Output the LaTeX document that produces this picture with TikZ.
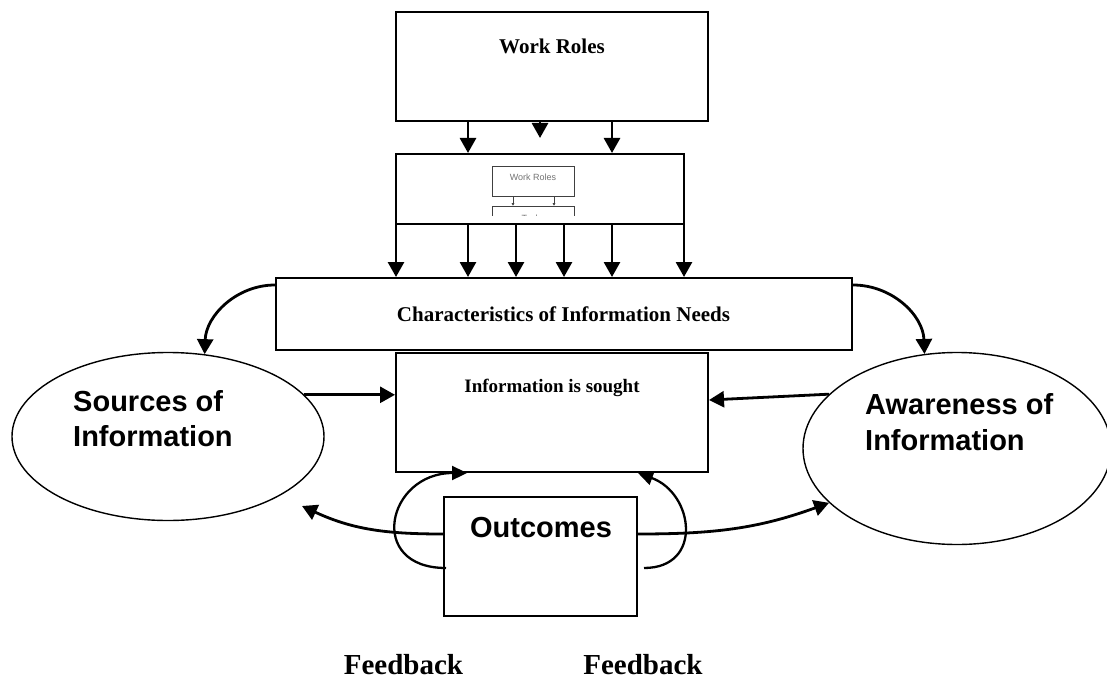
\documentclass[tikz,border=0pt]{standalone}
\usepackage{fontspec}
\setmainfont{Liberation Serif}
\setsansfont{Liberation Sans}
\usetikzlibrary{arrows.meta,shapes.geometric}
\begin{document}
\begin{tikzpicture}[x=1pt,y=-1pt,
  box/.style={draw, line width=2pt, rectangle, inner sep=0pt},
  oval/.style={draw, line width=1.4pt, ellipse, inner sep=0pt},
  arr/.style={line width=2.8pt, -{Triangle[length=15pt,width=16pt]}},
  fbloop/.style={line width=2.3pt, -{Triangle[length=15pt,width=14pt]}},
  marr/.style={line width=0.6pt, draw=black!75, -{Triangle[length=2.5pt,width=2.5pt]}},
  minibox/.style={draw=black!75, line width=0.6pt, rectangle, inner sep=0pt, minimum width=82pt, minimum height=30pt},
  minitext/.style={font=\fontsize{9}{11}\selectfont\sffamily, text=black!55, inner sep=0pt, anchor=base},
  serifb/.style={font=\fontsize{21}{25}\selectfont\bfseries, inner sep=0pt, anchor=base},
  sansb/.style={font=\fontsize{29}{35}\selectfont\sffamily\bfseries, inner sep=0pt, anchor=base west}
]
\useasboundingbox (0,0) rectangle (1107,679);
\fill[white] (0,0) rectangle (1107,679);

% boxes
\node[box, minimum width=312pt, minimum height=109pt] (wr) at (552,66.5) {};
\node[box, minimum width=288pt, minimum height=70pt] (tasks) at (540,189) {};
\node[box, minimum width=576pt, minimum height=72pt] (char) at (564,314) {};
\node[box, minimum width=312pt, minimum height=119pt] (info) at (552,412.5) {};
\node[box, minimum width=193pt, minimum height=119pt] (out) at (540.5,556.5) {};
\node[oval, minimum width=312pt, minimum height=168pt] (src) at (168,436.5) {};
\node[oval, minimum width=308pt, minimum height=192pt] (aw) at (957,448.5) {};

% texts
\node[serifb] (twr) at (552,54) {Work Roles};
\node[serifb] (tchar) at (563.5,321) {Characteristics of Information Needs};
\node[serifb, font=\fontsize{19}{23}\selectfont\bfseries] (tinfo) at (552,392) {Information is sought};
\node[sansb] (ts1) at (73,411) {Sources of};
\node[sansb] (ts2) at (73,446) {Information};
\node[sansb] (ta1) at (865,414) {Awareness of};
\node[sansb] (ta2) at (865,450) {Information};
\node[sansb, anchor=base] (tout) at (541,537) {Outcomes};
\node[serifb, font=\fontsize{29}{35}\selectfont\bfseries] (fb1) at (403.5,674) {Feedback};
\node[serifb, font=\fontsize{29}{35}\selectfont\bfseries] (fb2) at (643,674) {Feedback};

% mini nested diagram
\node[minibox] (mwr) at (533,181) {};
\node[minitext] (tmwr) at (533,180) {Work Roles};
\begin{scope}
  \clip (380,150) rectangle (720,215);
  \node[minibox] (mtask) at (533,221) {};
  \node[minitext] (tmtask) at (533,221.5) {Tasks};
\end{scope}
\foreach \x in {513,554} {
  \coordinate (mx) at (\x,0);
  \draw[marr] (mwr.south -| mx) -- (mtask.north -| mx);
}

% Work roles -> tasks
\foreach \x in {468,612} {
  \coordinate (cx) at (\x,0);
  \draw[arr] (wr.south -| cx) -- (tasks.north -| cx);
}
\coordinate (midtip) at (540,138);
\draw[arr] (wr.south -| midtip) -- (midtip);

% tasks -> characteristics
\foreach \x in {396,468,516,564,612,684} {
  \coordinate (dx) at (\x,0);
  \draw[arr] (tasks.south -| dx) -- (char.north -| dx);
}

% characteristics -> ellipses
\draw[arr] ([yshift=-8pt]char.north west) to[out=180,in=88] (src.66);
\draw[arr] ([yshift=-8pt]char.north east) to[out=0,in=92] (aw.109);

% ellipses -> information is sought
\draw[arr] (src.17) -- (src.17 -| info.west);
\draw[arr] (aw.157) -- ([yshift=12.5pt]info.east);

% outcomes -> ellipses
\coordinate (srctip) at (302,506);
\draw[arr] ([yshift=22.5pt]out.west) to[out=180,in=-25] (srctip);
\draw[arr] ([yshift=22.5pt]out.east) to[out=0,in=200] (aw.203);

% feedback loops
\draw[fbloop] ([xshift=3pt,yshift=-11.5pt]out.west) to[out=180,in=180,looseness=2.1] ([xshift=-85pt]info.south);
\draw[fbloop] ([xshift=6pt,yshift=-11.5pt]out.east) to[out=0,in=-20,looseness=1.6] ([xshift=86pt]info.south);
\end{tikzpicture}
\end{document}
